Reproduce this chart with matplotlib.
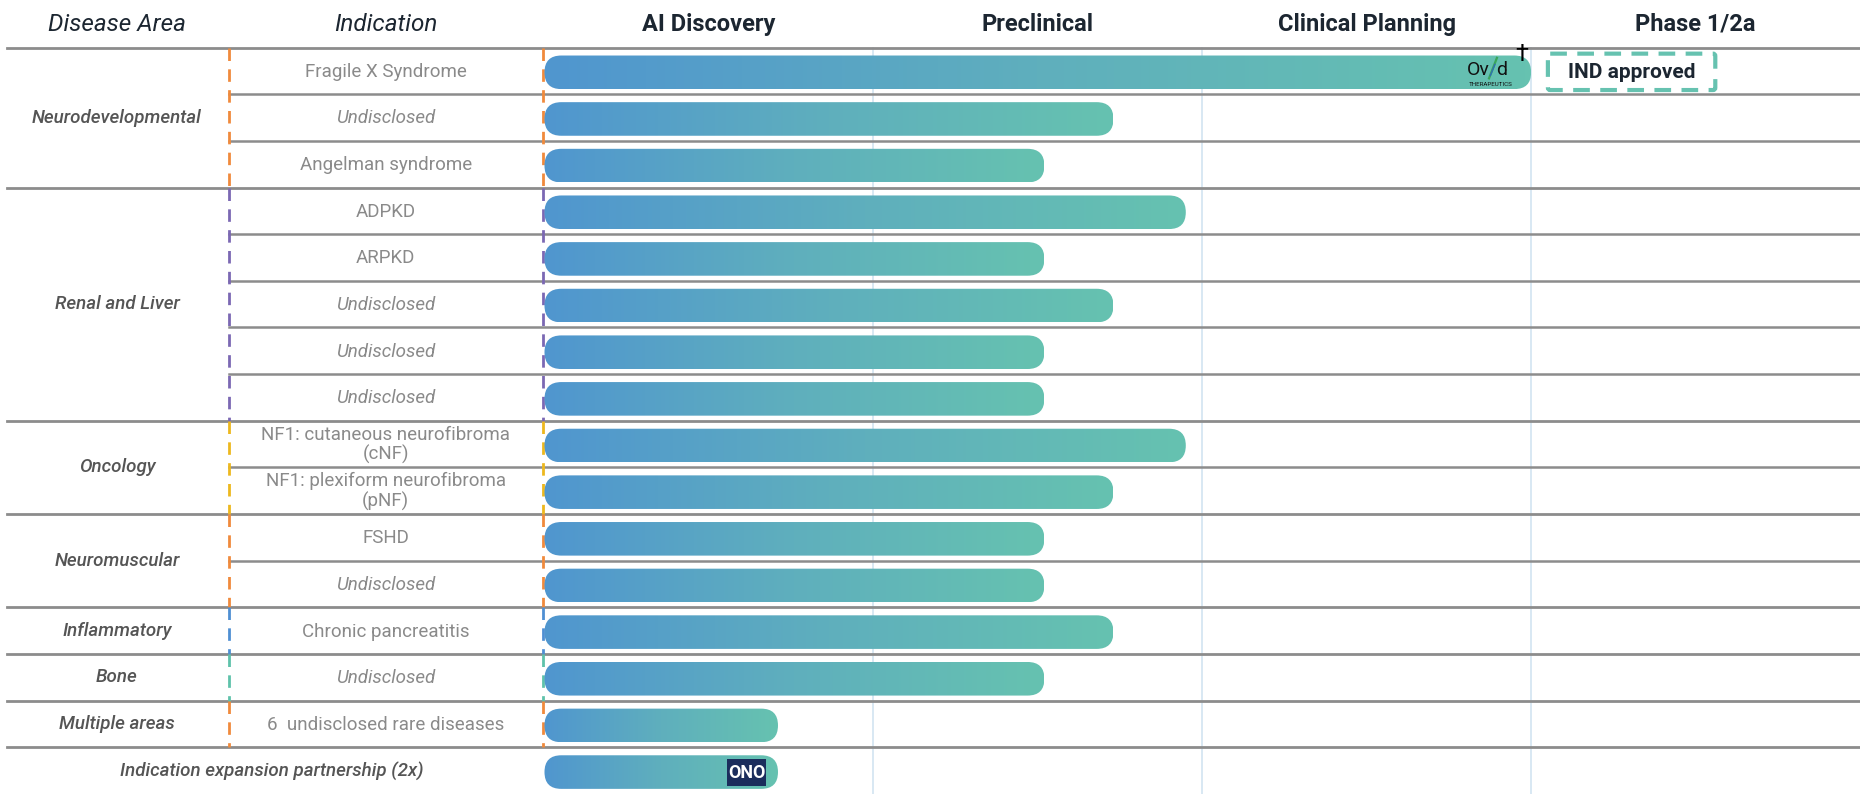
import matplotlib
matplotlib.use("Agg")
import matplotlib.pyplot as plt
import numpy as np
from matplotlib.patches import FancyBboxPatch, Rectangle
from matplotlib.colors import LinearSegmentedColormap

plt.rcParams['font.family'] = ['Roboto', 'DejaVu Sans']

# ---- data ----
stages = ["AI Discovery", "Preclinical", "Clinical Planning", "Phase 1/2a"]
areas = ["Neurodevelopmental", "Renal and Liver", "Oncology", "Neuromuscular",
         "Inflammatory", "Bone", "Multiple areas", "Indication expansion partnership (2x)"]
area_rows = [3, 5, 2, 2, 1, 1, 1, 1]
area_colors = ["#F08A3C", "#7B68B3", "#EDB81E", "#F08A3C", "#4F8FD3", "#5EC2AA", "#F08A3C", None]
indications = ["Fragile X Syndrome", "Undisclosed", "Angelman syndrome",
               "ADPKD", "ARPKD", "Undisclosed", "Undisclosed", "Undisclosed",
               "NF1: cutaneous neurofibroma\n(cNF)", "NF1: plexiform neurofibroma\n(pNF)",
               "FSHD", "Undisclosed", "Chronic pancreatitis", "Undisclosed",
               "6  undisclosed rare diseases", ""]
progress = [3.0, 1.73, 1.52, 1.95, 1.52, 1.73, 1.52, 1.52,
            1.95, 1.73, 1.52, 1.52, 1.73, 1.52, 0.71, 0.71]

n = len(indications)
x_left, x_right = -1.6556, 4.0
x_dash1, x_dash2 = -0.96, -0.004
x_area, x_ind = -1.30, -0.483
y_top = -0.5 - 1.02

fig = plt.figure(figsize=(18.6, 7.94), dpi=100)
ax = fig.add_axes([0, 0, 1, 1])
ax.set_xlim(x_left, x_right)
ax.set_ylim(n - 0.5, y_top)
ax.axis('off')

# pixel aspect for round caps
p0 = ax.transData.transform((0, 0))
p1 = ax.transData.transform((1, 1))
sx = abs(p1[0] - p0[0]); sy = abs(p1[1] - p0[1])
aspect = sx / sy

dark = "#1C2631"
grid_c = "#8C8C8C"

# headers
ax.text(x_area, -1.0, "Disease Area", ha='center', va='center', fontsize=17.5,
        style='italic', color=dark)
ax.text(x_ind, -1.0, "Indication", ha='center', va='center', fontsize=17.5,
        style='italic', color=dark)
for i, s in enumerate(stages):
    ax.text(i + 0.5, -1.0, s, ha='center', va='center', fontsize=17,
            fontweight='bold', color=dark)

# stage column lines
for i in range(1, len(stages)):
    ax.plot([i, i], [-0.5, n - 0.5], color="#D6E6F2", lw=1.3, zorder=0)

# header line
ax.plot([x_left + 0.02, x_right], [-0.5, -0.5], color=grid_c, lw=2, zorder=1)

# groups
r0 = 0
for a, cnt, col in zip(areas, area_rows, area_colors):
    r1 = r0 + cnt
    yc = (r0 + r1 - 1) / 2
    if col is None:
        ax.text(-0.83, yc, a, ha='center', va='center', fontsize=13.5,
                style='italic', fontweight='medium', color="#555555")
    else:
        ax.text(x_area, yc, a, ha='center', va='center', fontsize=13.5,
                style='italic', fontweight='medium', color="#555555")
        for xd in (x_dash1, x_dash2):
            ax.plot([xd, xd], [r0 - 0.5, r1 - 0.5], color=col, lw=2,
                    dashes=(4.5, 3), zorder=2)
    # inner lines
    for r in range(r0 + 1, r1):
        ax.plot([x_dash1, x_right], [r - 0.5, r - 0.5], color=grid_c, lw=1.8, zorder=1)
    if r1 < n:
        ax.plot([x_left + 0.02, x_right], [r1 - 0.5, r1 - 0.5], color=grid_c, lw=2, zorder=1)
    r0 = r1

# indication labels
for i, lab in enumerate(indications):
    if not lab:
        continue
    it = 'italic' if lab == "Undisclosed" else 'normal'
    ax.text(x_ind, i + 0.02, lab, ha='center', va='center', fontsize=13.5, style=it,
            color="#8A8A8A", linespacing=1.1)

# gradient bars
cmap = LinearSegmentedColormap.from_list("bar", ["#5096CF", "#5FAFBD", "#66C2B0"])
grad = np.linspace(0, 1, 256).reshape(1, -1)
bh = 0.72
for i, v in enumerate(progress):
    y0 = i - bh / 2 + 0.03
    patch = FancyBboxPatch((0.0, y0), v, bh,
                           boxstyle="round,pad=0,rounding_size=%f" % (bh / 2 / aspect),
                           mutation_aspect=aspect, fc='none', ec='none', zorder=3)
    ax.add_patch(patch)
    im = ax.imshow(grad, cmap=cmap, aspect='auto', extent=(0, v, y0 + bh, y0),
                   zorder=3, interpolation='bilinear')
    im.set_clip_path(patch)

# Ovid logo + dagger
xs = 2.878
ax.text(xs - 0.004, -0.02, "Ov", ha='right', va='center', fontsize=14, color='#111111', zorder=5)
ax.text(xs + 0.016, -0.02, "d", ha='left', va='center', fontsize=14, color='#111111', zorder=5)
ax.plot([xs - 0.006, xs + 0.018], [0.16, -0.28], color="#3AA65A", lw=1.6, zorder=5)
ax.plot([xs - 0.002, xs + 0.012], [0.10, -0.14], color="#2F6FB5", lw=1.0, zorder=6)
ax.text(2.878, 0.30, "THERAPEUTICS", ha='center', va='center', fontsize=4.5,
        color='#111111', zorder=5)
ax.text(2.972, -0.36, "\u2020", ha='center', va='center', fontsize=17, color='black', zorder=5)

# IND approved box
ind_box = FancyBboxPatch((3.051, -0.37), 0.509, 0.78,
                         boxstyle="round,pad=0,rounding_size=%f" % (0.05 / aspect),
                         mutation_aspect=aspect, fc='white', ec="#66C2B0", lw=3,
                         linestyle=(0, (4, 2.5)), zorder=4)
ax.add_patch(ind_box)
ax.text(3.306, 0.04, "IND approved", ha='center', va='center', fontsize=15,
        fontweight='bold', color=dark, zorder=5)

# ONO logo
ax.add_patch(Rectangle((0.555, 14.74), 0.12, 0.59, fc="#1B2D5C", ec='none', zorder=5))
ax.text(0.615, 15.05, "ONO", ha='center', va='center', fontsize=13, fontweight='bold',
        color='white', zorder=6, fontstretch='condensed')

fig.savefig("out.png", dpi=100)
